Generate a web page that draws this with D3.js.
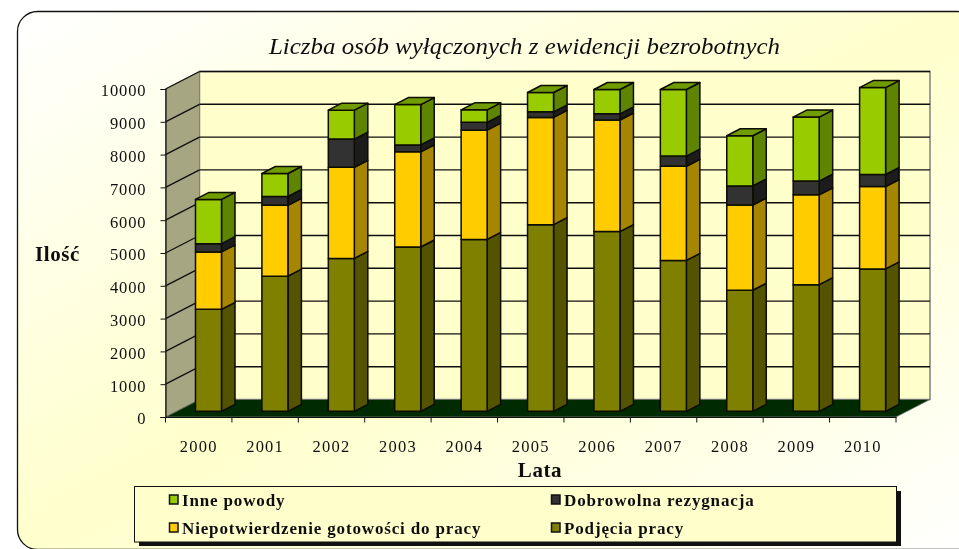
<!DOCTYPE html>
<html>
<head>
<meta charset="utf-8">
<script src="https://cdn.jsdelivr.net/npm/d3@7"></script>
<style>
  html, body { margin: 0; background: #fff; }
  svg { display: block; }
  text { font-family: "Liberation Serif", serif; fill: #111; }
</style>
</head>
<body>
<div id="chart"></div>
<script>
const years = ['2000', '2001', '2002', '2003', '2004', '2005', '2006', '2007', '2008', '2009', '2010'];
const podjecia = [3110, 4120, 4660, 5010, 5240, 5690, 5480, 4600, 3690, 3860, 4340];
const niepotwierdzenie = [1750, 2160, 2780, 2900, 3330, 3270, 3400, 2870, 2600, 2740, 2510];
const dobrowolna = [250, 270, 860, 210, 240, 170, 190, 310, 580, 420, 370];
const inne = [1350, 700, 880, 1230, 380, 590, 740, 2030, 1530, 1950, 2650];
const yTicks = [0, 1000, 2000, 3000, 4000, 5000, 6000, 7000, 8000, 9000, 10000];

const seriesNames = ['Podjęcia pracy', 'Niepotwierdzenie gotowości do pracy', 'Dobrowolna rezygnacja', 'Inne powody'];
const seriesFront = ['#808000', '#ffcc00', '#333333', '#99cc00'];
const seriesSide = ['#525200', '#a68600', '#1f1f1f', '#5f8500'];
const seriesTop = ['#6a6a00', '#c9a000', '#2a2a2a', '#719c00'];

const width = 959;
const height = 549;

const svg = d3.select('#chart').append('svg')
  .attr('width', width)
  .attr('height', height);

const defs = svg.append('defs');
const grad = defs.append('linearGradient')
  .attr('id', 'panelGrad')
  .attr('x1', 0).attr('y1', 0)
  .attr('x2', 1).attr('y2', 1);
grad.append('stop').attr('offset', '0%').attr('stop-color', '#ffffff');
grad.append('stop').attr('offset', '50%').attr('stop-color', '#ffffcc');
grad.append('stop').attr('offset', '100%').attr('stop-color', '#ffffff');

// slight softening, the original is a scaled up bitmap
const soft = defs.append('filter').attr('id', 'soft');
soft.append('feGaussianBlur').attr('stdDeviation', 0.35);

svg.append('rect')
  .attr('x', 17.5).attr('y', 11.5)
  .attr('width', 960).attr('height', 538)
  .attr('rx', 20)
  .attr('fill', 'url(#panelGrad)')
  .attr('stroke', '#111')
  .attr('stroke-width', 1.3);

const x = d3.scaleBand().domain(years).range([165.5, 896]);
const y = d3.scaleLinear().domain([0, 10000]).range([417, 89]);

// 3d offsets
const wallDx = 34;
const wallDy = -17.5;
const barInset = 30;
const barWidth = 26;
const barLift = -5.7;
const sideDx = 13.5;
const sideDy = -7;

const poly = (pts) => pts.map((p) => p.join(',')).join(' ');

const plot = svg.append('g').attr('filter', 'url(#soft)');

// walls and floor
plot.append('polygon')
  .attr('points', poly([
    [x.range()[0] + wallDx, y(10000) + wallDy],
    [x.range()[1] + wallDx, y(10000) + wallDy],
    [x.range()[1] + wallDx, y(0) + wallDy],
    [x.range()[0] + wallDx, y(0) + wallDy],
  ]))
  .attr('fill', '#ffffcc')
  .attr('stroke', '#808080')
  .attr('stroke-width', 1.5);

plot.append('polygon')
  .attr('points', poly([
    [x.range()[0], y(10000)],
    [x.range()[0] + wallDx, y(10000) + wallDy],
    [x.range()[0] + wallDx, y(0) + wallDy],
    [x.range()[0], y(0)],
  ]))
  .attr('fill', '#a6a682')
  .attr('stroke', '#808080')
  .attr('stroke-width', 1);

plot.append('polygon')
  .attr('points', poly([
    [x.range()[0], y(0)],
    [x.range()[0] + wallDx, y(0) + wallDy],
    [x.range()[1] + wallDx, y(0) + wallDy],
    [x.range()[1], y(0)],
  ]))
  .attr('fill', '#002b00')
  .attr('stroke', '#777')
  .attr('stroke-width', 0.8);

// grid lines, back wall then left wall
plot.append('g').selectAll('line')
  .data(yTicks.slice(1))
  .join('line')
  .attr('x1', x.range()[0] + wallDx)
  .attr('x2', x.range()[1] + wallDx)
  .attr('y1', (d) => y(d) + wallDy)
  .attr('y2', (d) => y(d) + wallDy)
  .attr('stroke', '#111')
  .attr('stroke-width', 1.4);

plot.append('g').selectAll('line')
  .data(yTicks.slice(1))
  .join('line')
  .attr('x1', x.range()[0])
  .attr('x2', x.range()[0] + wallDx)
  .attr('y1', (d) => y(d))
  .attr('y2', (d) => y(d) + wallDy)
  .attr('stroke', '#111')
  .attr('stroke-width', 1.3);

// stacked columns
const rows = years.map((year, i) => ({
  year,
  s0: podjecia[i],
  s1: niepotwierdzenie[i],
  s2: dobrowolna[i],
  s3: inne[i],
}));
const stacked = d3.stack().keys(['s0', 's1', 's2', 's3'])(rows);

const bars = plot.append('g')
  .attr('stroke', '#0a0a00')
  .attr('stroke-width', 1.5)
  .attr('stroke-linejoin', 'round');

stacked.forEach((layer, s) => {
  const g = bars.append('g');
  layer.forEach((d) => {
    const left = x(d.data.year) + barInset;
    const right = left + barWidth;
    const top = y(d[1]) + barLift;
    const bottom = y(d[0]) + barLift;
    g.append('polygon')
      .attr('points', poly([
        [right, bottom],
        [right + sideDx, bottom + sideDy],
        [right + sideDx, top + sideDy],
        [right, top],
      ]))
      .attr('fill', seriesSide[s]);
    g.append('rect')
      .attr('x', left)
      .attr('y', top)
      .attr('width', barWidth)
      .attr('height', bottom - top)
      .attr('fill', seriesFront[s]);
    if (s === stacked.length - 1) {
      g.append('polygon')
        .attr('points', poly([
          [left, top],
          [left + sideDx, top + sideDy],
          [right + sideDx, top + sideDy],
          [right, top],
        ]))
        .attr('fill', seriesTop[s]);
    }
  });
});

// axes
const yAxis = d3.axisLeft(y).tickValues(yTicks).tickSize(5).tickPadding(14).tickFormat(d3.format('d'));
const gy = svg.append('g')
  .attr('transform', `translate(${x.range()[0]},0)`)
  .call(yAxis);
gy.selectAll('.domain').attr('stroke', '#111').attr('stroke-width', 1.2);
gy.selectAll('.tick line').attr('stroke', '#111');
gy.selectAll('text')
  .attr('font-family', '"Liberation Serif", serif')
  .attr('font-size', 16.5)
  .attr('letter-spacing', 0.9)
  .attr('dy', '0.42em')
  .attr('filter', 'url(#soft)');

const xAxis = d3.axisBottom(x).tickSize(0).tickPadding(23);
const gx = svg.append('g')
  .attr('transform', `translate(0,${y(0)})`)
  .call(xAxis);
gx.selectAll('.domain').attr('stroke', '#111').attr('stroke-width', 1.2);
gx.selectAll('text')
  .attr('font-family', '"Liberation Serif", serif')
  .attr('font-size', 16.5)
  .attr('letter-spacing', 1.2)
  .attr('filter', 'url(#soft)');

// ticks sit on the band edges, not the centres
svg.append('g').selectAll('line')
  .data(years.concat('end'))
  .join('line')
  .attr('x1', (d) => (d === 'end' ? x.range()[1] : x(d)))
  .attr('x2', (d) => (d === 'end' ? x.range()[1] : x(d)))
  .attr('y1', y(0))
  .attr('y2', y(0) + 5.5)
  .attr('stroke', '#111');

// titles
svg.append('text')
  .attr('x', 269).attr('y', 54)
  .attr('font-size', 23)
  .attr('font-style', 'italic')
  .attr('filter', 'url(#soft)')
  .attr('textLength', 511)
  .attr('lengthAdjust', 'spacingAndGlyphs')
  .text('Liczba osób wyłączonych z ewidencji bezrobotnych');

svg.append('text')
  .attr('x', 35).attr('y', 260.5)
  .attr('font-size', 21)
  .attr('font-weight', 'bold')
  .attr('letter-spacing', 0.6)
  .attr('filter', 'url(#soft)')
  .text('Ilość');

svg.append('text')
  .attr('x', 540).attr('y', 476.5)
  .attr('text-anchor', 'middle')
  .attr('font-size', 21)
  .attr('font-weight', 'bold')
  .attr('letter-spacing', 0.6)
  .attr('filter', 'url(#soft)')
  .text('Lata');

// legend
const legend = svg.append('g');
legend.append('rect')
  .attr('x', 139).attr('y', 491)
  .attr('width', 762).attr('height', 55)
  .attr('fill', '#111');
legend.append('rect')
  .attr('x', 134.5).attr('y', 486.5)
  .attr('width', 762).attr('height', 55.5)
  .attr('fill', '#ffffcc')
  .attr('stroke', '#111')
  .attr('stroke-width', 1);

const legendOrder = [3, 2, 1, 0];
const legendItems = legend.selectAll('g.item')
  .data(legendOrder)
  .join('g')
  .attr('class', 'item')
  .attr('transform', (d, i) => `translate(${i % 2 ? 551 : 169},${i < 2 ? 500 : 528})`);

legendItems.append('rect')
  .attr('x', 0.5).attr('y', -5)
  .attr('width', 8.5).attr('height', 9)
  .attr('fill', (d) => seriesFront[d])
  .attr('stroke', '#111')
  .attr('stroke-width', 1.5);

legendItems.append('text')
  .attr('x', 13).attr('y', 6)
  .attr('font-size', 17)
  .attr('font-weight', 'bold')
  .attr('letter-spacing', 0.85)
  .attr('filter', 'url(#soft)')
  .text((d) => seriesNames[d]);
</script>
</body>
</html>
